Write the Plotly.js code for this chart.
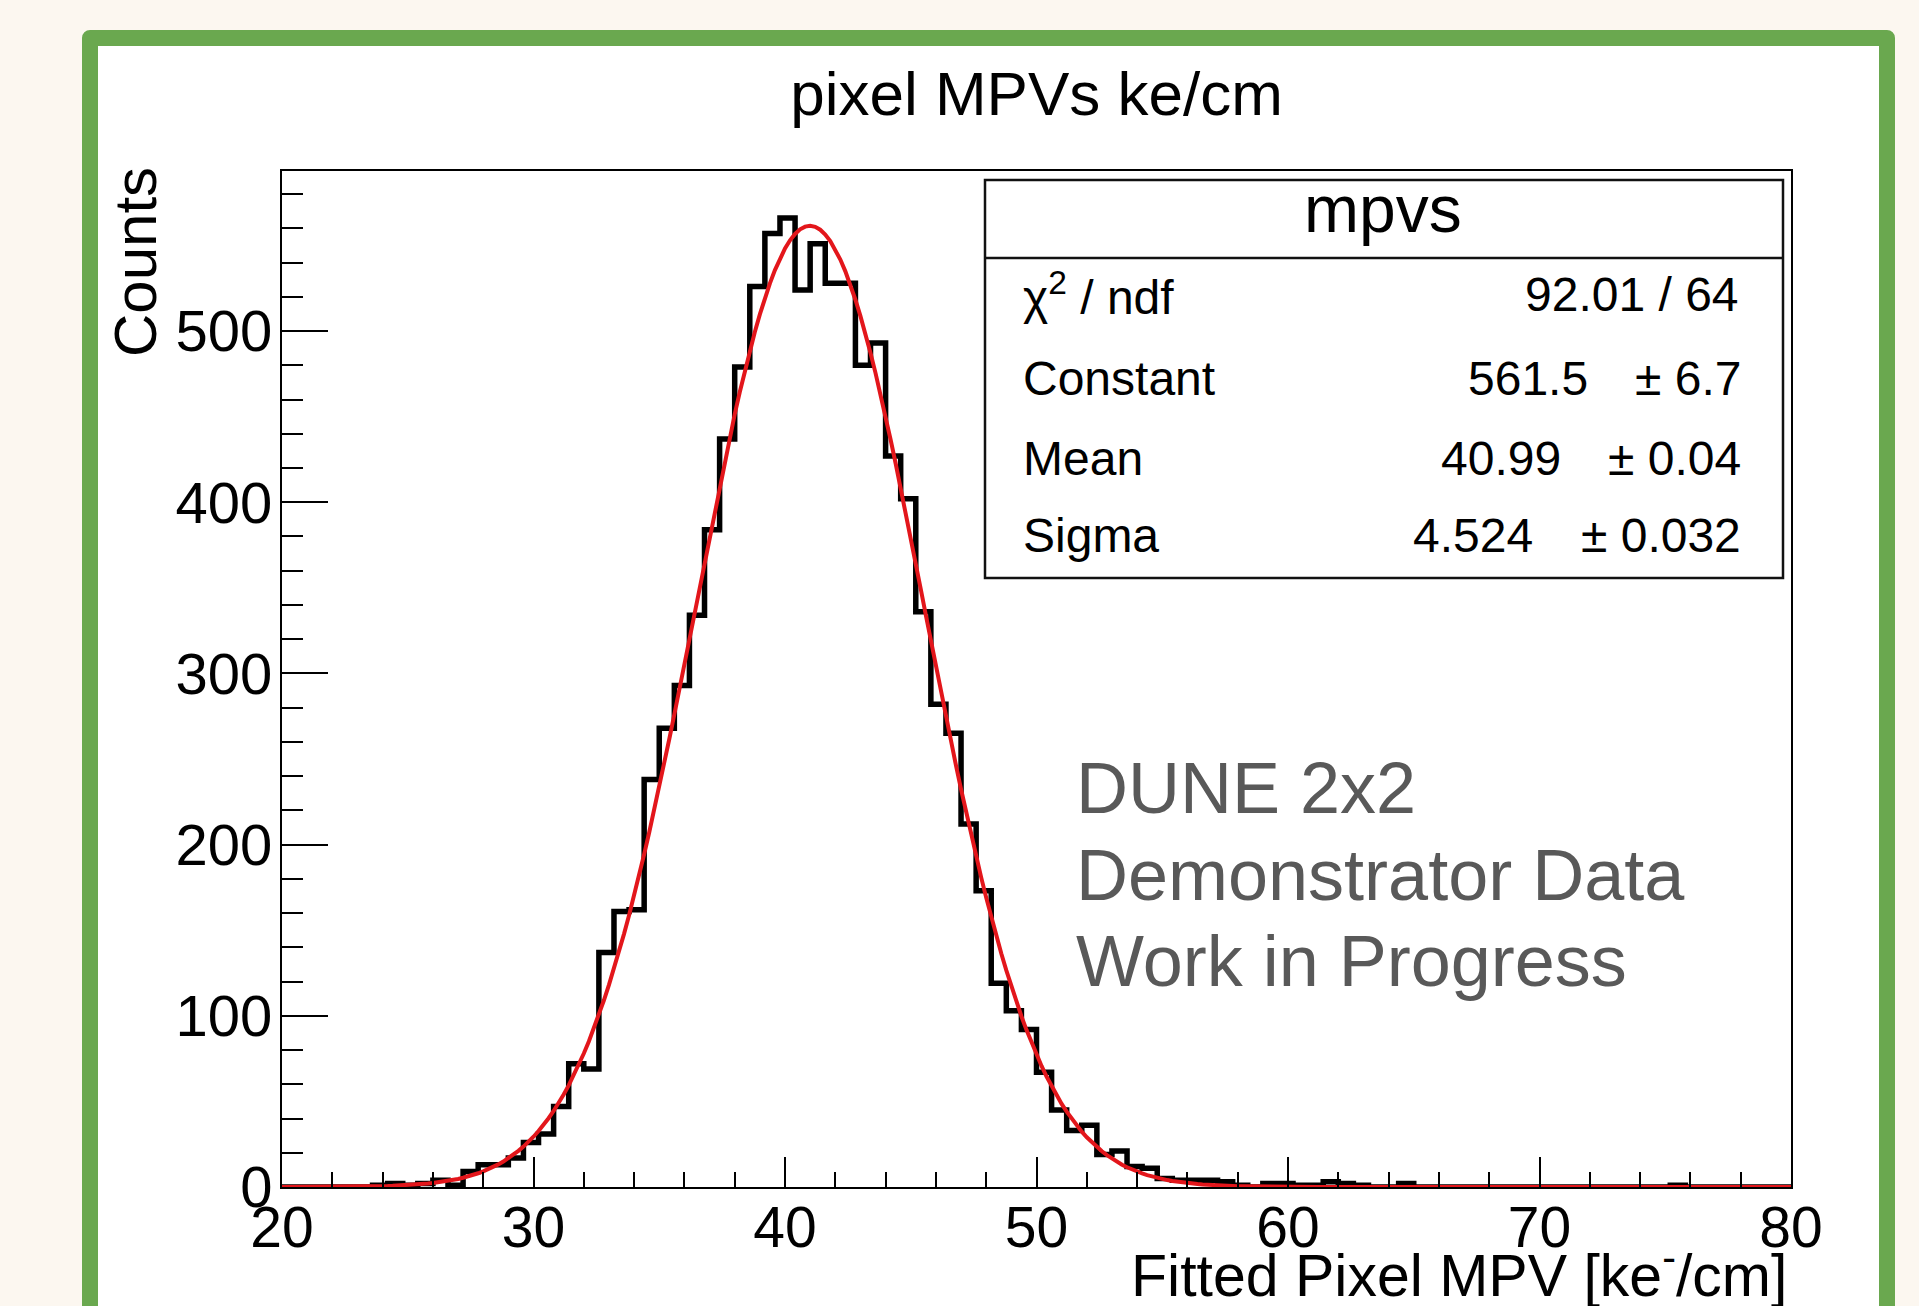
<!DOCTYPE html>
<html>
<head>
<meta charset="utf-8">
<script src="https://cdn.plot.ly/plotly-3.0.1.min.js"></script>
<style>
  html, body { margin: 0; padding: 0; width: 1919px; height: 1306px; overflow: hidden; background: #fcf7f0; }
  #frame { position: absolute; left: 82px; top: 30px; width: 1781px; height: 1400px;
           border: 16px solid #6aa84f; border-radius: 8px; background: #ffffff; }
  #chart { position: absolute; left: 0; top: 0; width: 1919px; height: 1306px; }
</style>
</head>
<body>
<div id="frame"></div>
<div id="chart"></div>
<script>
// ---------------- data ----------------
const binLowEdges = [20.0, 20.6, 21.2, 21.8, 22.4, 23.0, 23.6, 24.2, 24.8, 25.4,
  26.0, 26.6, 27.2, 27.8, 28.4, 29.0, 29.6, 30.2, 30.8, 31.4,
  32.0, 32.6, 33.2, 33.8, 34.4, 35.0, 35.6, 36.2, 36.8, 37.4,
  38.0, 38.6, 39.2, 39.8, 40.4, 41.0, 41.6, 42.2, 42.8, 43.4,
  44.0, 44.6, 45.2, 45.8, 46.4, 47.0, 47.6, 48.2, 48.8, 49.4,
  50.0, 50.6, 51.2, 51.8, 52.4, 53.0, 53.6, 54.2, 54.8, 55.4,
  56.0, 56.6, 57.2, 57.8, 58.4, 59.0, 59.6, 60.2, 60.8, 61.4,
  62.0, 62.6, 63.2, 63.8, 64.4, 65.0, 65.6, 66.2, 66.8, 67.4,
  68.0, 68.6, 69.2, 69.8, 70.4, 71.0, 71.6, 72.2, 72.8, 73.4,
  74.0, 74.6, 75.2, 75.8, 76.4, 77.0, 77.6, 78.2, 78.8, 79.4];
const binUpperEdge = 80.0;

const counts = [0, 0, 0, 0, 0, 0, 1, 2, 1, 2,
  4, 1, 9, 13, 13, 17, 26, 31, 47, 72,
  69, 137, 161, 162, 238, 268, 293, 334, 384, 437,
  479, 526, 557, 566, 524, 551, 528, 528, 480, 493,
  427, 402, 336, 282, 265, 212, 173, 119, 103, 92,
  67, 45, 33, 36, 19, 21, 12, 11, 5, 4,
  4, 4, 3, 1, 0, 2, 2, 1, 1, 3,
  2, 1, 0, 0, 2, 0, 0, 0, 0, 0,
  0, 0, 0, 0, 0, 0, 0, 0, 0, 0,
  0, 0, 1, 0, 0, 0, 0, 0, 0, 0];

// Gaussian fit parameters as printed in the stats box
const fitConstant = 561.5;
const fitMean = 40.99;
const fitSigma = 4.524;

const statNames  = ['χ<sup>2</sup> / ndf', 'Constant', 'Mean', 'Sigma'];
const statValues = ['92.01 / 64', '561.5', '40.99', '4.524'];
const statErrors = ['', '± 6.7', '± 0.04', '± 0.032'];

const chartTitle = 'pixel MPVs ke/cm';
const statsTitle = 'mpvs';
const xTitle = 'Fitted Pixel MPV [ke<sup>-</sup>/cm]';
const yTitle = 'Counts';
const noteLines = ['DUNE 2x2', 'Demonstrator Data', 'Work in Progress'];

// ---------------- build traces ----------------
const stepX = binLowEdges.concat([binUpperEdge]);
const stepY = counts.concat([counts[counts.length - 1]]);

const fitX = [], fitY = [];
const nFit = 300;
for (let i = 0; i <= nFit; i++) {
  const x = binLowEdges[0] + (binUpperEdge - binLowEdges[0]) * i / nFit;
  fitX.push(x);
  fitY.push(fitConstant * Math.exp(-0.5 * Math.pow((x - fitMean) / fitSigma, 2)));
}

const histTrace = {
  x: stepX, y: stepY, type: 'scatter', mode: 'lines',
  line: { shape: 'hv', color: '#000000', width: 5.5 },
  hoverinfo: 'skip', showlegend: false
};
const fitTrace = {
  x: fitX, y: fitY, type: 'scatter', mode: 'lines',
  line: { color: '#e3161b', width: 4 },
  hoverinfo: 'skip', showlegend: false
};

// ---------------- layout helpers (pixel -> paper) ----------------
const M = { l: 282, r: 128, t: 171, b: 119 };
const PW = 1919 - M.l - M.r, PH = 1306 - M.t - M.b;
const px = v => (v - M.l) / PW;
const py = v => (1306 - M.b - v) / PH;

const FONT = 'Liberation Sans, Arial, Helvetica, sans-serif';
const annotations = [];

annotations.push({ text: yTitle, xref: 'paper', yref: 'paper', x: px(135), y: py(165),
  xanchor: 'center', yanchor: 'top', textangle: -90, showarrow: false,
  font: { family: FONT, size: 60, color: '#000' } });
annotations.push({ text: xTitle, xref: 'paper', yref: 'paper', x: px(1789), y: py(1271),
  xanchor: 'right', yanchor: 'middle', showarrow: false,
  font: { family: FONT, size: 59, color: '#000' } });

annotations.push({ text: statsTitle, xref: 'paper', yref: 'paper', x: px(1383), y: py(209),
  xanchor: 'center', yanchor: 'middle', showarrow: false,
  font: { family: FONT, size: 66, color: '#000' } });

const rowY = [294, 378, 458, 535];
const valueRight = [1741, 1590, 1563, 1535];
for (let i = 0; i < statNames.length; i++) {
  annotations.push({ text: statNames[i], xref: 'paper', yref: 'paper', x: px(1021), y: py(rowY[i]),
    xanchor: 'left', yanchor: 'middle', showarrow: false,
    font: { family: FONT, size: 48, color: '#000' } });
  annotations.push({ text: statValues[i], xref: 'paper', yref: 'paper', x: px(valueRight[i]), y: py(rowY[i]),
    xanchor: 'right', yanchor: 'middle', showarrow: false,
    font: { family: FONT, size: 48, color: '#000' } });
  if (statErrors[i]) {
    annotations.push({ text: statErrors[i], xref: 'paper', yref: 'paper', x: px(1743), y: py(rowY[i]),
      xanchor: 'right', yanchor: 'middle', showarrow: false,
      font: { family: FONT, size: 48, color: '#000' } });
  }
}

const noteY = [788, 875, 961];
for (let i = 0; i < noteLines.length; i++) {
  annotations.push({ text: noteLines[i], xref: 'paper', yref: 'paper', x: px(1074), y: py(noteY[i]),
    xanchor: 'left', yanchor: 'middle', showarrow: false,
    font: { family: FONT, size: 72, color: '#595959' } });
}

const shapes = [
  { type: 'rect', xref: 'paper', yref: 'paper', x0: px(985), x1: px(1783), y0: py(578), y1: py(180),
    line: { color: '#111', width: 2.5 }, fillcolor: 'rgba(0,0,0,0)', layer: 'above' },
  { type: 'line', xref: 'paper', yref: 'paper', x0: px(985), x1: px(1783), y0: py(258), y1: py(258),
    line: { color: '#111', width: 2.5 }, layer: 'above' }
];

const layout = {
  width: 1919, height: 1306,
  margin: M,
  paper_bgcolor: 'rgba(0,0,0,0)',
  plot_bgcolor: '#ffffff',
  showlegend: false,
  font: { family: FONT, color: '#000' },
  title: { text: chartTitle, xref: 'paper', x: 0.5, xanchor: 'center',
           yref: 'container', y: 1 - 93 / 1306, yanchor: 'middle',
           font: { family: FONT, size: 62, color: '#000' } },
  xaxis: {
    range: [20, 80], tick0: 20, dtick: 10, tickmode: 'linear',
    ticks: 'inside', ticklen: 30, tickwidth: 2, tickcolor: '#000',
    minor: { dtick: 2, tick0: 20, ticks: 'inside', ticklen: 15, tickwidth: 2, tickcolor: '#000', showgrid: false },
    showline: true, linecolor: '#000', linewidth: 2, mirror: true,
    showgrid: false, zeroline: false,
    tickfont: { family: FONT, size: 57, color: '#000' },
    ticklabelstandoff: -10
  },
  yaxis: {
    range: [0, 593.5], tick0: 0, dtick: 100, tickmode: 'linear',
    ticks: 'inside', ticklen: 46, tickwidth: 2, tickcolor: '#000',
    minor: { dtick: 20, tick0: 0, ticks: 'inside', ticklen: 21, tickwidth: 2, tickcolor: '#000', showgrid: false },
    showline: true, linecolor: '#000', linewidth: 2, mirror: true,
    showgrid: false, zeroline: false,
    tickfont: { family: FONT, size: 58, color: '#000' },
    ticklabelstandoff: -4
  },
  annotations: annotations,
  shapes: shapes
};

Plotly.newPlot('chart', [histTrace, fitTrace], layout, { displayModeBar: false, staticPlot: true });
</script>
</body>
</html>
